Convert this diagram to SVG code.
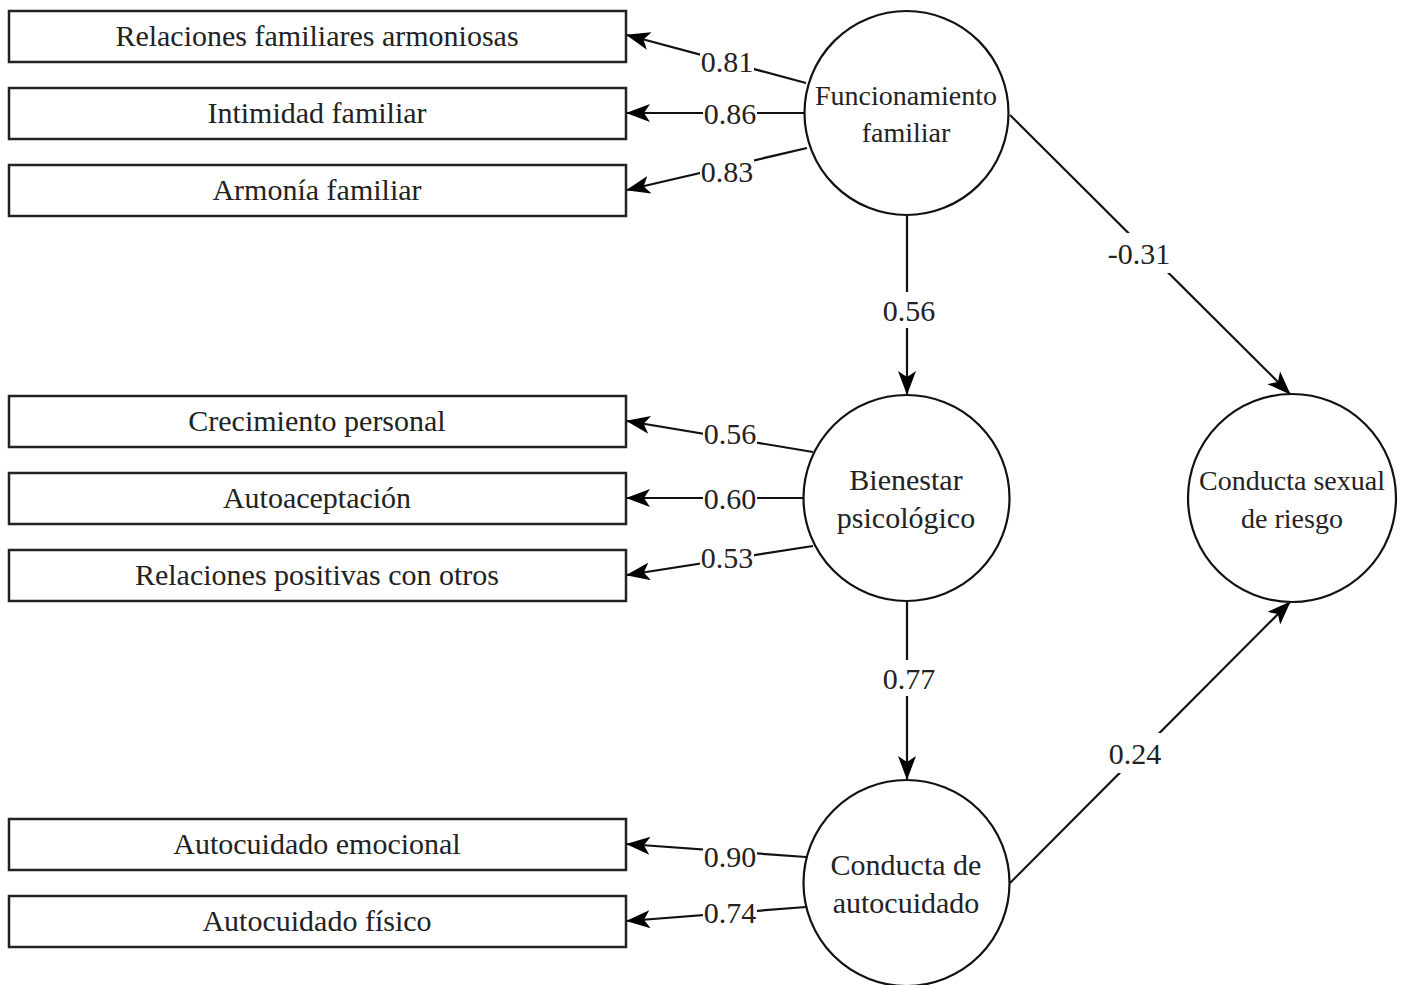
<svg xmlns="http://www.w3.org/2000/svg" width="1403" height="985" viewBox="0 0 1403 985">
<defs>
<marker id="arr" markerUnits="userSpaceOnUse" markerWidth="24" markerHeight="18" viewBox="0 0 24 18" refX="23" refY="9" orient="auto">
<path d="M0,0 L24,9 L0,18 L6,9 z" fill="#000"/>
</marker>
<style>
.box{fill:#fff;stroke:#222;stroke-width:2.5}
.circ{fill:#fff;stroke:#111;stroke-width:2.2}
.bt{font-family:"Liberation Serif",serif;font-size:30px;fill:#222;text-anchor:middle;dominant-baseline:central}
.ct{font-family:"Liberation Serif",serif;font-size:30px;fill:#222;text-anchor:middle;dominant-baseline:central}
.cts{font-family:"Liberation Serif",serif;font-size:28px;fill:#222;text-anchor:middle;dominant-baseline:central}
.edge{stroke:#111;stroke-width:2.2;fill:none;marker-end:url(#arr)}
.lbl{font-family:"Liberation Serif",serif;font-size:30px;fill:#222;text-anchor:middle;dominant-baseline:central}
.lb{fill:#fff}
</style>
</defs>
<rect width="1403" height="985" fill="#fff"/>
<g id="connectors">
<line class="edge" x1="806" y1="83" x2="627" y2="35"/>
<line class="edge" x1="805" y1="113" x2="627" y2="113"/>
<line class="edge" x1="807" y1="148" x2="627" y2="190"/>
<line class="edge" x1="813" y1="452" x2="627" y2="421"/>
<line class="edge" x1="805" y1="498" x2="627" y2="498"/>
<line class="edge" x1="813" y1="546" x2="627" y2="575"/>
<line class="edge" x1="806" y1="857" x2="627" y2="844"/>
<line class="edge" x1="806" y1="907" x2="627" y2="921"/>
<line class="edge" x1="907" y1="216" x2="907" y2="394"/>
<line class="edge" x1="907" y1="601" x2="907" y2="779"/>
<line class="edge" x1="1010" y1="115" x2="1290" y2="394"/>
<line class="edge" x1="1010" y1="883" x2="1290" y2="602"/>
<g id="edge-labels">
<rect class="lb" x="700" y="48" width="54" height="28"/><text class="lbl" x="727" y="61">0.81</text>
<rect class="lb" x="703" y="100" width="54" height="28"/><text class="lbl" x="730" y="113">0.86</text>
<rect class="lb" x="700" y="158" width="54" height="28"/><text class="lbl" x="727" y="171">0.83</text>
<rect class="lb" x="703" y="420" width="54" height="28"/><text class="lbl" x="730" y="433">0.56</text>
<rect class="lb" x="703" y="485" width="54" height="28"/><text class="lbl" x="730" y="498">0.60</text>
<rect class="lb" x="700" y="544" width="54" height="28"/><text class="lbl" x="727" y="557">0.53</text>
<rect class="lb" x="703" y="843" width="54" height="28"/><text class="lbl" x="730" y="856">0.90</text>
<rect class="lb" x="703" y="899" width="54" height="28"/><text class="lbl" x="730" y="912">0.74</text>
<rect class="lb" x="880" y="292" width="58" height="36"/><text class="lbl" x="909" y="310">0.56</text>
<rect class="lb" x="880" y="660" width="58" height="36"/><text class="lbl" x="909" y="678">0.77</text>
<rect class="lb" x="1104" y="233" width="70" height="40"/><text class="lbl" x="1139" y="253">-0.31</text>
<rect class="lb" x="1104" y="733" width="62" height="40"/><text class="lbl" x="1135" y="753">0.24</text>
</g>
</g>
<g id="n-rel-fam"><rect class="box" x="9" y="11" width="617" height="51"/><text class="bt" x="317" y="35">Relaciones familiares armoniosas</text></g>
<g id="n-intimidad"><rect class="box" x="9" y="88" width="617" height="51"/><text class="bt" x="317" y="112">Intimidad familiar</text></g>
<g id="n-armonia"><rect class="box" x="9" y="165" width="617" height="51"/><text class="bt" x="317" y="189">Armonía familiar</text></g>
<g id="n-crecimiento"><rect class="box" x="9" y="396" width="617" height="51"/><text class="bt" x="317" y="420">Crecimiento personal</text></g>
<g id="n-autoaceptacion"><rect class="box" x="9" y="473" width="617" height="51"/><text class="bt" x="317" y="497">Autoaceptación</text></g>
<g id="n-relpos"><rect class="box" x="9" y="550" width="617" height="51"/><text class="bt" x="317" y="574">Relaciones positivas con otros</text></g>
<g id="n-auto-emo"><rect class="box" x="9" y="819" width="617" height="51"/><text class="bt" x="317" y="843">Autocuidado emocional</text></g>
<g id="n-auto-fis"><rect class="box" x="9" y="896" width="617" height="51"/><text class="bt" x="317" y="920">Autocuidado físico</text></g>
<g id="n-funcionamiento"><circle class="circ" cx="906.5" cy="113" r="102"/><text class="cts" x="906" y="95">Funcionamiento</text><text class="cts" x="906" y="132">familiar</text></g>
<g id="n-bienestar"><circle class="circ" cx="906.5" cy="498" r="103"/><text class="ct" x="906" y="479">Bienestar</text><text class="ct" x="906" y="517">psicológico</text></g>
<g id="n-autocuidado"><circle class="circ" cx="906.5" cy="883" r="103"/><text class="ct" x="906" y="864">Conducta de</text><text class="ct" x="906" y="902">autocuidado</text></g>
<g id="n-sexual"><circle class="circ" cx="1292" cy="498" r="104"/><text class="cts" x="1292" y="480">Conducta sexual</text><text class="cts" x="1292" y="518">de riesgo</text></g>
</svg>
